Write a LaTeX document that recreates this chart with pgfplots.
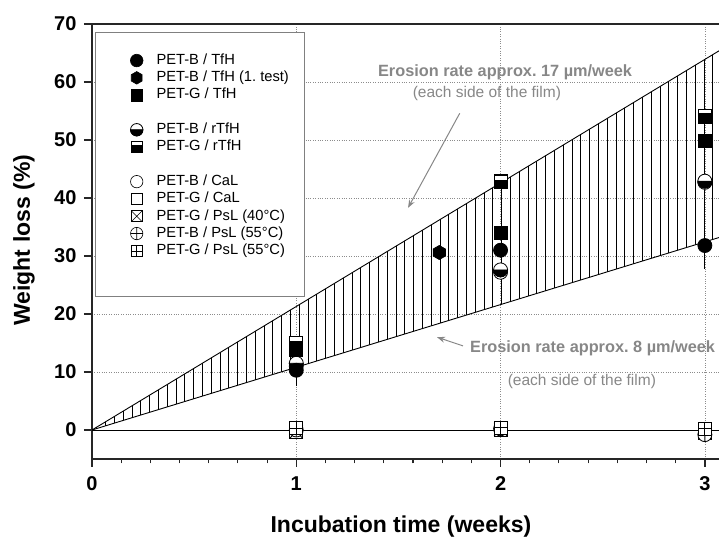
\documentclass[border=0pt]{standalone}
\usepackage{fontspec}
\setmainfont{Liberation Sans}
\usepackage{pgfplots}
\pgfplotsset{compat=1.18}
\usepgfplotslibrary{fillbetween}
\usetikzlibrary{patterns.meta,arrows.meta}
\frenchspacing

\definecolor{anngray}{RGB}{135,135,135}
\definecolor{gridgray}{RGB}{140,140,140}

\pgfdeclareplotmark{halfcircle}{%
  \pgfsetfillcolor{white}%
  \pgfpathcircle{\pgfpointorigin}{\pgfplotmarksize}%
  \pgfusepathqfillstroke
  \pgfsetfillcolor{black}%
  \pgfpathmoveto{\pgfqpoint{\pgfplotmarksize}{0pt}}%
  \pgfpatharc{0}{-180}{\pgfplotmarksize}%
  \pgfpathclose
  \pgfusepathqfillstroke
}
\pgfdeclareplotmark{halfsquare}{%
  \pgfsetfillcolor{white}%
  \pgfpathrectangle{\pgfqpoint{-\pgfplotmarksize}{-\pgfplotmarksize}}{\pgfqpoint{2\pgfplotmarksize}{2\pgfplotmarksize}}%
  \pgfusepathqfillstroke
  \pgfsetfillcolor{black}%
  \pgfpathrectangle{\pgfqpoint{-\pgfplotmarksize}{-\pgfplotmarksize}}{\pgfqpoint{2\pgfplotmarksize}{1.3\pgfplotmarksize}}%
  \pgfusepathqfillstroke
}
\pgfdeclareplotmark{hexagon}{%
  \pgfsetfillcolor{black}%
  \pgfpathmoveto{\pgfqpointpolar{90}{\pgfplotmarksize}}%
  \pgfpathlineto{\pgfqpointpolar{150}{\pgfplotmarksize}}%
  \pgfpathlineto{\pgfqpointpolar{210}{\pgfplotmarksize}}%
  \pgfpathlineto{\pgfqpointpolar{270}{\pgfplotmarksize}}%
  \pgfpathlineto{\pgfqpointpolar{330}{\pgfplotmarksize}}%
  \pgfpathlineto{\pgfqpointpolar{30}{\pgfplotmarksize}}%
  \pgfpathclose
  \pgfusepathqfillstroke
}
\pgfdeclareplotmark{squarex}{%
  \pgfsetfillcolor{white}%
  \pgfpathrectangle{\pgfqpoint{-\pgfplotmarksize}{-\pgfplotmarksize}}{\pgfqpoint{2\pgfplotmarksize}{2\pgfplotmarksize}}%
  \pgfusepathqfillstroke
  \pgfpathmoveto{\pgfqpoint{-\pgfplotmarksize}{-\pgfplotmarksize}}%
  \pgfpathlineto{\pgfqpoint{\pgfplotmarksize}{\pgfplotmarksize}}%
  \pgfpathmoveto{\pgfqpoint{-\pgfplotmarksize}{\pgfplotmarksize}}%
  \pgfpathlineto{\pgfqpoint{\pgfplotmarksize}{-\pgfplotmarksize}}%
  \pgfusepathqstroke
}
\pgfdeclareplotmark{squareplus}{%
  \pgfsetfillcolor{white}%
  \pgfpathrectangle{\pgfqpoint{-\pgfplotmarksize}{-\pgfplotmarksize}}{\pgfqpoint{2\pgfplotmarksize}{2\pgfplotmarksize}}%
  \pgfusepathqfillstroke
  \pgfpathmoveto{\pgfqpoint{0pt}{-\pgfplotmarksize}}%
  \pgfpathlineto{\pgfqpoint{0pt}{\pgfplotmarksize}}%
  \pgfpathmoveto{\pgfqpoint{-\pgfplotmarksize}{0pt}}%
  \pgfpathlineto{\pgfqpoint{\pgfplotmarksize}{0pt}}%
  \pgfusepathqstroke
}

\pgfplotsset{
  dat/.style={only marks, black, line width=0.8pt, mark size=7pt,
    error bars/y dir=both, error bars/y explicit,
    error bars/error mark options={black, mark size=6pt, line width=0.8pt},
    error bars/error bar style={black, line width=0.8pt}},
}

\begin{document}
\begin{tikzpicture}
\begin{axis}[
  name=ax,
  scale only axis,
  width=629.2pt, height=435pt,
  xmin=0, xmax=3.08, ymin=-5, ymax=70,
  xtick={0,1,2,3}, ytick={0,10,...,70},
  minor x tick num=6,
  tick pos=left,
  tick align=outside,
  major tick length=8pt, minor tick length=4.5pt,
  axis line style={line width=1.6pt, black!85},
  every tick/.style={line width=1.3pt, black!85},
  every minor tick/.style={line width=1.1pt, black!85},
  grid=major,
  grid style={dotted, gridgray, line width=0.7pt},
  /pgf/number format/assume math mode=true,
  ticklabel style={font=\fontsize{20}{24}\selectfont\bfseries},
  yticklabel style={xshift=-4pt},
  xticklabel style={yshift=-6pt},
  xlabel={Incubation time (weeks)},
  ylabel={Weight loss (\%)},
  every axis x label/.style={at={(axis description cs:0.491,-0.156)}, anchor=center, font=\fontsize{23}{27}\selectfont\bfseries},
  every axis y label/.style={at={(axis description cs:-0.108,0.503)}, rotate=90, anchor=center, font=\fontsize{23}{27}\selectfont\bfseries},
  legend style={at={(0.0048,0.9816)}, anchor=north west, draw=gray, line width=0.6pt,
    inner xsep=14pt, inner ysep=20pt, row sep=0.8pt,
    font=\fontsize{14.7}{16}\selectfont,
    nodes={inner sep=1.5pt, text height=10.5pt, text depth=3pt},
    /tikz/every odd column/.append style={column sep=12pt}},
  legend cell align=left,
  legend image code/.code={\path (0pt,0pt); \draw[#1] plot coordinates {(27pt,0pt)};},
]
% erosion-rate band
\addplot[name path=up, black, line width=0.9pt, forget plot] coordinates {(0,0) (3.08,65.6)};
\addplot[name path=lo, black, line width=0.9pt, forget plot] coordinates {(0,0) (3.08,33.3)};
\addplot[pattern={Lines[angle=90, distance=8.8pt, line width=0.8pt]}, forget plot] fill between[of=up and lo];
% zero line
\addplot[black, line width=0.9pt, forget plot] coordinates {(0,0) (3.08,0)};

% CaL (open)
\addplot[dat, mark=*, mark options={fill=white}, forget plot] coordinates {(1,11.0) +- (0,0) (2,27.2) +- (0,0) (3,42.7) +- (0,0)};
\addplot[dat, mark=square*, mark size=6.5pt, mark options={fill=white}, forget plot] coordinates {(1,14.6) +- (0,0) (2,42.9) +- (0,0) (3,54.0) +- (0,0)};
% PsL
\addplot[dat, mark=squarex, mark size=6.5pt, forget plot] coordinates {(1,-0.3) +- (0,0) (2,0.1) +- (0,0) (3,-0.5) +- (0,0)};
\addplot[dat, mark=oplus*, mark options={fill=white}, forget plot] coordinates {(1,0.0) +- (0,0) (2,0.2) +- (0,0) (3,-0.8) +- (0,0)};
\addplot[dat, mark=squareplus, mark size=6.5pt, forget plot] coordinates {(1,0.3) +- (0,0) (2,0.4) +- (0,0) (3,0.2) +- (0,0)};
% rTfH
\addplot[dat, mark=halfcircle, forget plot] coordinates {(1,11.5) +- (0,0) (2,27.6) +- (0,0) (3,42.9) +- (0,1.6)};
\addplot[dat, mark=halfsquare, mark size=6.5pt, forget plot] coordinates {(1,15.0) +- (0,0) (2,42.7) +- (0,0) (3,54.2) +- (0,1.4)};
% TfH
\addplot[dat, mark=square*, mark size=6.5pt, fill=black, forget plot] coordinates {(1,13.8) +- (0,0) (2,34.0) +- (0,0) (3,49.8) +- (0,2.6)};
\addplot[dat, mark=hexagon, forget plot] coordinates {(1.7,30.6) +- (0,0)};
\addplot[dat, mark=*, fill=black, forget plot] coordinates {(1,10.3) +- (0,1.7) (2,31.0) +- (0,0) (3,31.8) +- (0,3.0)};

% legend
\addlegendimage{only marks, black, mark=*, mark size=6.3pt}
\addlegendentry{PET-B / TfH}
\addlegendimage{only marks, black, mark=hexagon, mark size=6.3pt}
\addlegendentry{PET-B / TfH (1. test)}
\addlegendimage{only marks, black, mark=square*, mark size=5.7pt}
\addlegendentry{PET-G / TfH}
\addlegendimage{empty legend}
\addlegendentry{}
\addlegendimage{only marks, black, line width=0.8pt, mark=halfcircle, mark size=6.2pt}
\addlegendentry{PET-B / rTfH}
\addlegendimage{only marks, black, line width=0.8pt, mark=halfsquare, mark size=5.5pt}
\addlegendentry{PET-G / rTfH}
\addlegendimage{empty legend}
\addlegendentry{}
\addlegendimage{only marks, black, line width=0.6pt, mark=*, mark options={fill=white}, mark size=6.2pt}
\addlegendentry{PET-B / CaL}
\addlegendimage{only marks, black, line width=0.6pt, mark=square*, mark options={fill=white}, mark size=5.5pt}
\addlegendentry{PET-G / CaL}
\addlegendimage{only marks, black, line width=0.6pt, mark=squarex, mark size=5.5pt}
\addlegendentry{PET-G / PsL (40°C)}
\addlegendimage{only marks, black, line width=0.6pt, mark=oplus*, mark options={fill=white}, mark size=6.2pt}
\addlegendentry{PET-B / PsL (55°C)}
\addlegendimage{only marks, black, line width=0.6pt, mark=squareplus, mark size=5.5pt}
\addlegendentry{PET-G / PsL (55°C)}
\addlegendimage{empty legend}
\addlegendentry{\rule{0pt}{3pt}}

% annotations
\node[anngray, font=\fontsize{16.3}{19}\selectfont\bfseries] at (axis cs:2.022,61.7) {Erosion rate approx. 17 µm/week};
\node[anngray, font=\fontsize{15.5}{18}\selectfont] at (axis cs:1.933,58.0) {(each side of the film)};
\draw[anngray, line width=1pt, -{Stealth[length=8pt,width=6pt]}] (axis cs:1.80,54.6) -- (axis cs:1.547,38.3);
\node[anngray, font=\fontsize{16.3}{19}\selectfont\bfseries, anchor=west, inner sep=0pt] at (axis cs:1.85,14.0) {Erosion rate approx. 8 µm/week};
\node[anngray, font=\fontsize{15.5}{18}\selectfont] at (axis cs:2.398,8.4) {(each side of the film)};
\draw[anngray, line width=1pt, -{Stealth[length=8pt,width=6pt]}] (axis cs:1.816,14.5) -- (axis cs:1.689,16.0);
\end{axis}
\pgfresetboundingbox
\path[use as bounding box] ([xshift=-92pt,yshift=-81pt]ax.south west) rectangle ([xshift=627pt,yshift=24pt]ax.north west);
\end{tikzpicture}
\end{document}
